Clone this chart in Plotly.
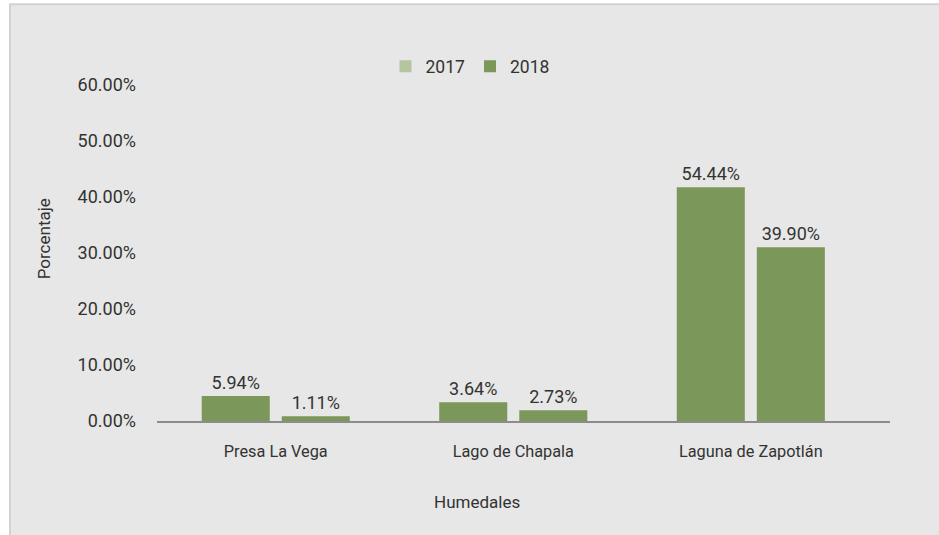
import plotly.graph_objects as go

categories = ["Presa La Vega", "Lago de Chapala", "Laguna de Zapotlán"]
years = ["2017", "2018"]
# bar heights as drawn against the y axis (percent)
heights_2017 = [4.46, 3.34, 41.73]
heights_2018 = [0.84, 1.91, 31.02]
# data labels as printed on the chart
labels_2017 = ["5.94%", "3.64%", "54.44%"]
labels_2018 = ["1.11%", "2.73%", "39.90%"]
y_tick_values = [0, 10, 20, 30, 40, 50, 60]
y_tick_labels = ["0.00%", "10.00%", "20.00%", "30.00%", "40.00%", "50.00%", "60.00%"]

BAR = "#7b975a"
LEG17 = "#b4c59f"
TXT = "#333333"
FONT = "Liberation Sans Narrow, Roboto, sans-serif"

W, H = 939, 535
L, R, T, B = 157, 49, 84.7, 114.3
pw, ph = W - L - R, H - T - B

def px(x):
    return (x - L) / pw

def py(y):
    return (H - B - y) / ph

fig = go.Figure()
for yr, col in zip(years, [LEG17, BAR]):
    fig.add_trace(go.Scatter(x=[None], y=[None], mode="markers", name=yr,
                             marker=dict(symbol="square", size=12, color=col),
                             hoverinfo="skip"))
for vals, labs in [(heights_2017, labels_2017), (heights_2018, labels_2018)]:
    fig.add_trace(go.Bar(x=categories, y=vals, text=labs, textposition="outside",
                         textfont=dict(size=18, color=TXT, family=FONT),
                         marker=dict(color=BAR, line=dict(width=0)),
                         cliponaxis=False, showlegend=False))

fig.update_layout(
    width=W, height=H,
    margin=dict(l=L, r=R, t=T, b=B, pad=0),
    paper_bgcolor="white",
    plot_bgcolor="rgba(0,0,0,0)",
    font=dict(family=FONT, size=17, color=TXT),
    barmode="group", bargap=0.326, bargroupgap=0.15,
    legend=dict(orientation="h", xref="paper", yref="paper",
                x=px(470), xanchor="center", y=py(66), yanchor="middle",
                font=dict(size=17.5, color=TXT), bgcolor="rgba(0,0,0,0)",
                itemwidth=30, tracegroupgap=0),
    xaxis=dict(type="category", categoryorder="array", categoryarray=categories,
               range=[-0.5, 2.586], showline=True, linecolor="#8c8c8c", linewidth=2,
               showgrid=False, zeroline=False, ticks="outside", ticklen=14,
               tickcolor="rgba(0,0,0,0)", tickfont=dict(size=16.3, color=TXT)),
    yaxis=dict(range=[0, 60], tickvals=y_tick_values, ticktext=y_tick_labels,
               showline=False, showgrid=False, zeroline=False,
               ticks="", ticklabelstandoff=20, tickfont=dict(size=18, color=TXT)),
    shapes=[dict(type="rect", xref="paper", yref="paper", layer="below",
                 x0=px(10), x1=px(950), y0=py(4), y1=py(545),
                 fillcolor="#e6e7e6", line=dict(color="#d2d2d2", width=2))],
    annotations=[
        dict(text="Humedales", xref="paper", yref="paper", x=px(477), y=py(502),
             xanchor="center", yanchor="middle", showarrow=False,
             font=dict(size=17, color=TXT)),
        dict(text="Porcentaje", xref="paper", yref="paper", x=px(44), y=py(239),
             xanchor="center", yanchor="middle", textangle=-90, showarrow=False,
             font=dict(size=17, color=TXT)),
    ],
)

fig.write_html("out.html", config={"displayModeBar": False},
               post_script="document.body.style.margin='0px';")
